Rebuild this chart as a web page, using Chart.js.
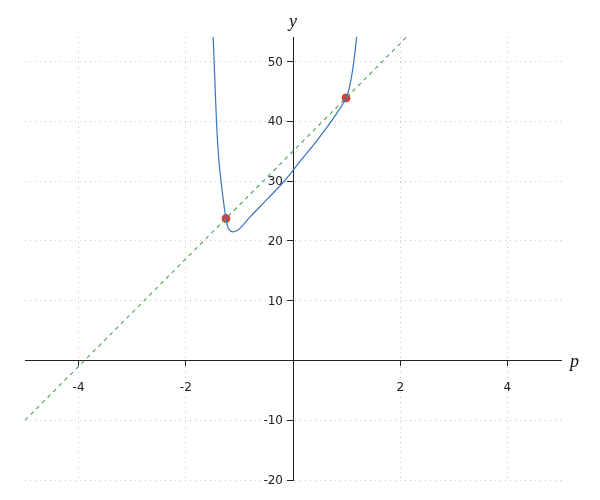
<!DOCTYPE html>
<html>
<head>
<meta charset="utf-8">
<script src="https://cdn.jsdelivr.net/npm/chart.js@4"></script>
<style>
  body { margin: 0; background: #fff; }
</style>
</head>
<body>
<canvas id="myChart" width="600" height="500"></canvas>
<script>
// curve y(p)
var curveP = [-1.49, -1.47, -1.45, -1.43, -1.41, -1.38, -1.34, -1.30, -1.25, -1.21, -1.16, -1.12, -1.05, -0.99, -0.80, -0.49, -0.18, 0.00, 0.13, 0.38, 0.69, 0.88, 1.00, 1.08, 1.13, 1.19];
var curveY = [54.2, 49.7, 45.0, 40.6, 37.0, 33.2, 29.8, 26.8, 23.7, 22.1, 21.6, 21.5, 21.7, 22.1, 24.0, 26.9, 29.8, 31.8, 33.3, 36.0, 39.7, 42.2, 44.0, 46.9, 49.7, 54.2];
// dashed secant line
var lineP = [-5, 2.2];
var lineY = [-10, 54.8];
// marked points
var dotP = [-1.25, 0.99];
var dotY = [23.75, 43.9];
// ticks
var xTicks = [-4, -2, 0, 2, 4];
var yTicks = [-20, -10, 0, 10, 20, 30, 40, 50];

function pts(xs, ys) {
  return xs.map(function (x, i) { return { x: x, y: ys[i] }; });
}

var axisText = {
  id: 'axisText',
  afterDraw: function (chart) {
    var ctx = chart.ctx;
    var xs = chart.scales.x, ys = chart.scales.y;
    var x0 = xs.getPixelForValue(0);
    ctx.save();
    // y tick labels, left of the centred axis
    ctx.fillStyle = '#222';
    ctx.font = '12px "DejaVu Sans", sans-serif';
    ctx.textAlign = 'right';
    ctx.textBaseline = 'middle';
    yTicks.forEach(function (v) {
      if (v !== 0) ctx.fillText(String(v), x0 - 10, ys.getPixelForValue(v) + 1);
    });
    // axis titles
    ctx.fillStyle = '#111';
    ctx.font = 'italic 18px "Liberation Serif", "DejaVu Serif", serif';
    ctx.textAlign = 'left';
    ctx.fillText('p', xs.right + 9, ys.getPixelForValue(0) + 2);
    ctx.textAlign = 'center';
    ctx.textBaseline = 'bottom';
    ctx.fillText('y', x0, ys.top - 6);
    ctx.restore();
  }
};

var chrt = document.getElementById("myChart").getContext("2d");
var chartId = new Chart(chrt, {
  type: 'scatter',
  data: {
    datasets: [{
      data: pts(lineP, lineY),
      showLine: true,
      borderColor: '#4a9e55',
      borderWidth: 1.1,
      borderDash: [4, 4],
      pointRadius: 0,
      fill: false
    }, {
      data: pts(curveP, curveY),
      showLine: true,
      borderColor: '#3a74c0',
      borderWidth: 1.2,
      tension: 0.35,
      pointRadius: 0,
      fill: false
    }, {
      data: pts(dotP, dotY),
      showLine: false,
      backgroundColor: '#d2413a',
      borderColor: '#d2413a',
      pointRadius: 4,
      pointHoverRadius: 4
    }]
  },
  options: {
    responsive: false,
    animation: false,
    layout: { padding: { left: 25, right: 39, top: 37, bottom: 20 } },
    plugins: { legend: { display: false }, tooltip: { enabled: false } },
    scales: {
      x: {
        type: 'linear',
        position: { y: 0 },
        min: -5, max: 5,
        afterFit: function (s) { s.height = 0; },
        afterBuildTicks: function (s) { s.ticks = xTicks.map(function (v) { return { value: v }; }); },
        ticks: {
          maxRotation: 0,
          autoSkip: false,
          color: '#222',
          font: { family: 'DejaVu Sans', size: 12 },
          padding: 15,
          callback: function (v) { return v === 0 ? '' : v; }
        },
        grid: { color: '#c8c8c8', lineWidth: 1, tickColor: '#222', tickLength: 5, tickBorderDash: [] },
        border: { color: '#222', width: 1, dash: [1, 4] }
      },
      y: {
        type: 'linear',
        position: { x: 0 },
        min: -20, max: 54.1,
        afterFit: function (s) { s.width = 0; },
        afterBuildTicks: function (s) { s.ticks = yTicks.map(function (v) { return { value: v }; }); },
        ticks: { display: false },
        grid: { color: '#c8c8c8', lineWidth: 1, tickColor: '#222', tickLength: 6, tickBorderDash: [] },
        border: { color: '#222', width: 1, dash: [1, 4] }
      }
    }
  },
  plugins: [axisText]
});
</script>
</body>
</html>
